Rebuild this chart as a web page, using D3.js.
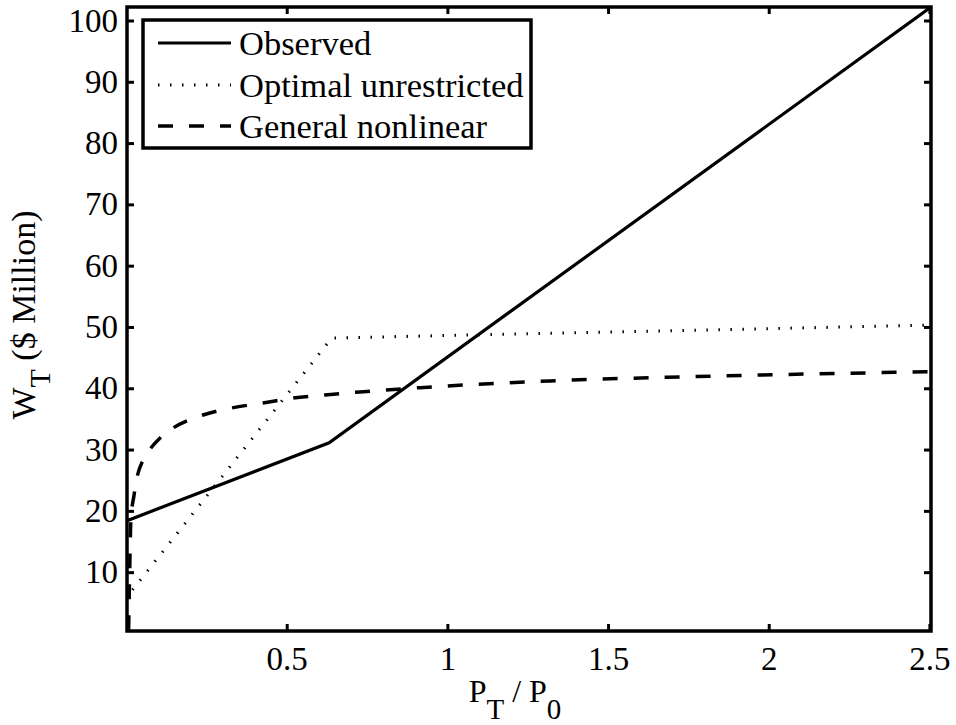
<!DOCTYPE html>
<html>
<head>
<meta charset="utf-8">
<script src="https://cdn.jsdelivr.net/npm/d3@7"></script>
<style>
  body { margin: 0; background: #fff; }
  text { font-family: "Liberation Serif", "Times New Roman", serif; fill: #000; }
</style>
</head>
<body>
<script>
// Values
const observedX = [0.003, 0.632, 2.505];
const observedY = [18.4, 31.1, 102.2];

const optimalX = [0.02, 0.64, 2.505];
const optimalY = [7.1, 48.2, 50.3];

const nonlinearX = [0.008, 0.012, 0.015, 0.025, 0.034, 0.053, 0.075, 0.106, 0.143, 0.237, 0.33, 0.426, 0.52, 0.619, 0.728, 0.915, 1.32, 1.765, 2.505];
const nonlinearY = [0.5, 11.9, 18.4, 22.6, 25.4, 28.3, 30.1, 31.9, 33.4, 35.6, 36.8, 37.6, 38.4, 38.9, 39.4, 40.1, 41.2, 41.9, 42.7];

const xTicks = [0.5, 1, 1.5, 2, 2.5];
const yTicks = [10, 20, 30, 40, 50, 60, 70, 80, 90, 100];

const legendLabels = ['Observed', 'Optimal unrestricted', 'General nonlinear'];

// Consts for the figure
const width = 956,
    height = 725,
    plotLeft = 127, plotRight = 931, plotTop = 7, plotBottom = 631,
    tickLen = 7;

const svg = d3.select('body').append('svg')
    .attr('width', width)
    .attr('height', height);

const x = d3.scaleLinear().domain([0.003, 2.505]).range([plotLeft, plotRight]);
const y = d3.scaleLinear().domain([0.4, 102.2]).range([plotBottom, plotTop]);

const series = [
    {xs: observedX, ys: observedY, dash: null, w: 3.2, curve: d3.curveLinear},
    {xs: optimalX, ys: optimalY, dash: '1.5,10.5', w: 3, curve: d3.curveLinear},
    {xs: nonlinearX, ys: nonlinearY, dash: '15,16', w: 3.5, curve: d3.curveMonotoneX}
];

svg.append('clipPath').attr('id', 'plotClip')
    .append('rect')
    .attr('x', plotLeft).attr('y', plotTop - 2)
    .attr('width', plotRight - plotLeft).attr('height', plotBottom - plotTop + 2);

// Data lines
const lines = svg.append('g').attr('clip-path', 'url(#plotClip)');
series.forEach(s => {
    const pts = s.xs.map((v, i) => [v, s.ys[i]]);
    const line = d3.line().x(d => x(d[0])).y(d => y(d[1])).curve(s.curve);
    lines.append('path')
        .attr('d', line(pts))
        .attr('fill', 'none')
        .attr('stroke', '#000')
        .attr('stroke-width', s.w)
        .attr('stroke-dasharray', s.dash);
});

// Axes (MATLAB box style, ticks pointing in)
const axisG = svg.append('g');
axisG.append('g')
    .attr('transform', 'translate(0,' + plotBottom + ')')
    .call(d3.axisBottom(x).tickValues(xTicks).tickSize(-tickLen).tickPadding(16).tickFormat(d3.format('')));
axisG.append('g')
    .attr('transform', 'translate(0,' + plotTop + ')')
    .call(d3.axisTop(x).tickValues(xTicks).tickSize(-tickLen).tickFormat(''));
axisG.append('g')
    .attr('transform', 'translate(' + plotLeft + ',0)')
    .call(d3.axisLeft(y).tickValues(yTicks).tickSize(-tickLen).tickPadding(9).tickFormat(d3.format('')));
axisG.append('g')
    .attr('transform', 'translate(' + plotRight + ',0)')
    .call(d3.axisRight(y).tickValues(yTicks).tickSize(-tickLen).tickFormat(''));

axisG.selectAll('.domain').remove();
axisG.selectAll('.tick line').attr('stroke', '#000').attr('stroke-width', 3);
axisG.selectAll('.tick text')
    .attr('font-size', 33)
    .attr('font-family', '"Liberation Serif", serif');

svg.append('rect')
    .attr('x', plotLeft).attr('y', plotTop)
    .attr('width', plotRight - plotLeft).attr('height', plotBottom - plotTop)
    .attr('fill', 'none')
    .attr('stroke', '#000')
    .attr('stroke-width', 3.5);

// Axis labels
const xLabel = svg.append('text')
    .attr('x', 515)
    .attr('y', 702)
    .attr('text-anchor', 'middle')
    .attr('font-size', 32);
xLabel.append('tspan').text('P');
xLabel.append('tspan').attr('dy', 17).attr('font-size', 29).text('T');
xLabel.append('tspan').attr('dy', -17).text(' / P');
xLabel.append('tspan').attr('dy', 17).attr('font-size', 29).text('0');

const yLabel = svg.append('text')
    .attr('transform', 'translate(35,' + 315 + ') rotate(-90)')
    .attr('text-anchor', 'middle')
    .attr('font-size', 34);
yLabel.append('tspan').text('W');
yLabel.append('tspan').attr('dy', 15).attr('font-size', 30).text('T');
yLabel.append('tspan').attr('dy', -15).text(' ($ Million)');

// Legend
const legend = svg.append('g');
legend.append('rect')
    .attr('x', 143).attr('y', 20)
    .attr('width', 388).attr('height', 128)
    .attr('fill', '#fff')
    .attr('stroke', '#000')
    .attr('stroke-width', 3.5);

const rowY = [43, 85, 126];
legendLabels.forEach((lab, i) => {
    legend.append('line')
        .attr('x1', 158).attr('x2', 231)
        .attr('y1', rowY[i]).attr('y2', rowY[i])
        .attr('stroke', '#000')
        .attr('stroke-width', series[i].w)
        .attr('stroke-dasharray', series[i].dash);
    legend.append('text')
        .attr('x', 239)
        .attr('y', rowY[i] + 12)
        .attr('font-size', 34.5)
        .text(lab);
});
</script>
</body>
</html>
